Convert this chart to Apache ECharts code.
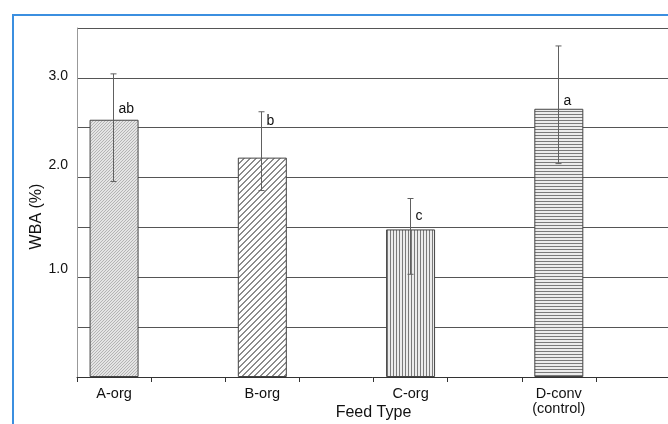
<!DOCTYPE html>
<html><head><meta charset="utf-8">
<script src="https://cdn.jsdelivr.net/npm/echarts@6/dist/echarts.min.js"></script>
<style>html,body{margin:0;padding:0;background:#fff}#c{width:668px;height:424px}</style>
</head><body><div id="c"></div>
<script>
// ---- data ----
const categories = ['A-org', 'B-org', 'C-org', 'D-conv\n(control)'];
const wba = [2.58, 2.20, 1.48, 2.69];
const errLow = [1.96, 1.87, 1.03, 2.14];
const errHigh = [3.04, 2.66, 1.79, 3.32];
const letters = ['ab', 'b', 'c', 'a'];
const letterY = [2.69, 2.57, 1.61, 2.77];
const yTickLabels = ['1.0', '2.0', '3.0'];

// ---- fill patterns ----
function tile(w, h, draw) {
  const cv = document.createElement('canvas');
  cv.width = w; cv.height = h;
  const ctx = cv.getContext('2d');
  draw(ctx);
  return { image: cv, repeat: 'repeat' };
}
const patterns = [
  tile(3, 3, c => { c.fillStyle = '#e4e4e4'; c.fillRect(0,0,3,3); c.fillStyle = '#b4b4b4'; c.fillRect(0,0,1,1); c.fillRect(2,1,1,1); c.fillRect(1,2,1,1); }),
  tile(6, 6, c => { c.fillStyle = '#ffffff'; c.fillRect(0,0,6,6); c.fillStyle = '#8c8c8c'; for (let i = 0; i < 6; i++) { c.fillRect(i, 5 - i, 1, 1); c.fillRect((i + 1) % 6, 5 - i, 1, 1); } }),
  tile(3, 1, c => { c.fillStyle = '#ececec'; c.fillRect(0,0,3,1); c.fillStyle = '#7a7a7a'; c.fillRect(0,0,1,1); }),
  tile(1, 3, c => { c.fillStyle = '#ececec'; c.fillRect(0,0,1,3); c.fillStyle = '#7a7a7a'; c.fillRect(0,0,1,1); })
];

const xCats = categories.flatMap(c => [c, '']);
const barData = wba.flatMap((v, i) => [{ value: v, itemStyle: { color: patterns[i] } }, '-']);
const errData = wba.map((v, i) => [2 * i, errLow[i], errHigh[i], letterY[i], i]);

const shiftUp = { '1.0': 16, '2.0': 24, '3.0': 4 };
const FONT = "'Liberation Sans', Arial, sans-serif";

const chart = echarts.init(document.getElementById('c'), null, { renderer: 'canvas' });
chart.setOption({
  animation: false,
  backgroundColor: '#fff',
  textStyle: { fontFamily: FONT },
  graphic: [{
    type: 'rect', silent: true, z: 100,
    shape: { x: 13, y: 15, width: 800, height: 600 },
    style: { fill: 'none', stroke: '#3b8fe0', lineWidth: 2 }
  }],
  grid: { left: 77, right: -2, top: 28, bottom: 47, containLabel: false, outerBoundsMode: 'none' },
  xAxis: {
    type: 'category', data: xCats, boundaryGap: true,
    axisLine: { lineStyle: { color: '#333', width: 1 } },
    axisTick: { show: true, interval: 0, length: 5, lineStyle: { color: '#333' } },
    axisLabel: { interval: 0, fontSize: 14.5, color: '#111', margin: 9, lineHeight: 15, fontFamily: FONT },
    name: 'Feed Type', nameLocation: 'middle', nameGap: 28, nameMoveOverlap: false,
    nameTextStyle: { fontSize: 16, color: '#111', fontFamily: FONT }
  },
  yAxis: {
    type: 'value', min: 0, max: 3.5, interval: 0.5,
    axisLine: { show: true, lineStyle: { color: '#999' } },
    axisTick: { show: false },
    splitLine: { show: true, showMinLine: false, lineStyle: { color: ['#555','#555','#555','#555','#555','#555','#555','#aaa'], width: 1 } },
    axisLabel: {
      fontSize: 14, color: '#111', margin: 9, fontFamily: FONT,
      formatter: v => {
        const s = v.toFixed(1);
        if (yTickLabels.indexOf(s) < 0) return '';
        return '{t|' + s + '}\n{g' + shiftUp[s] + '| }';
      },
      rich: {
        t: { fontSize: 14, lineHeight: 14, color: '#111', fontFamily: FONT },
        g4: { fontSize: 1, lineHeight: 4 },
        g16: { fontSize: 1, lineHeight: 16 },
        g24: { fontSize: 1, lineHeight: 24 }
      }
    },
    name: 'WBA (%)', nameLocation: 'middle', nameGap: 32, nameMoveOverlap: false,
    nameTextStyle: { fontSize: 16, color: '#111', fontFamily: FONT, padding: [0, 28, 0, 0] }
  },
  series: [
    {
      type: 'bar', data: barData, barWidth: 49,
      itemStyle: { borderColor: '#444', borderWidth: 1 }
    },
    {
      type: 'custom', data: errData, encode: { x: 0, y: [1, 2] }, z: 5,
      renderItem: (params, api) => {
        const x = api.value(0);
        const lo = api.coord([x, api.value(1)]);
        const hi = api.coord([x, api.value(2)]);
        const ly = api.coord([x, api.value(3)]);
        const cx = Math.round(lo[0]) - 0.5;
        const st = { stroke: '#606060', lineWidth: 1 };
        return {
          type: 'group', children: [
            { type: 'line', shape: { x1: cx, y1: lo[1], x2: cx, y2: hi[1] }, style: st },
            { type: 'line', shape: { x1: cx - 3, y1: lo[1], x2: cx + 3, y2: lo[1] }, style: st },
            { type: 'line', shape: { x1: cx - 3, y1: hi[1], x2: cx + 3, y2: hi[1] }, style: st },
            { type: 'text', style: { x: cx + 5, y: ly[1], text: letters[api.value(4)], fill: '#111', font: '14px ' + FONT, textAlign: 'left', textVerticalAlign: 'middle' } }
          ]
        };
      }
    }
  ]
});
</script>
</body></html>
